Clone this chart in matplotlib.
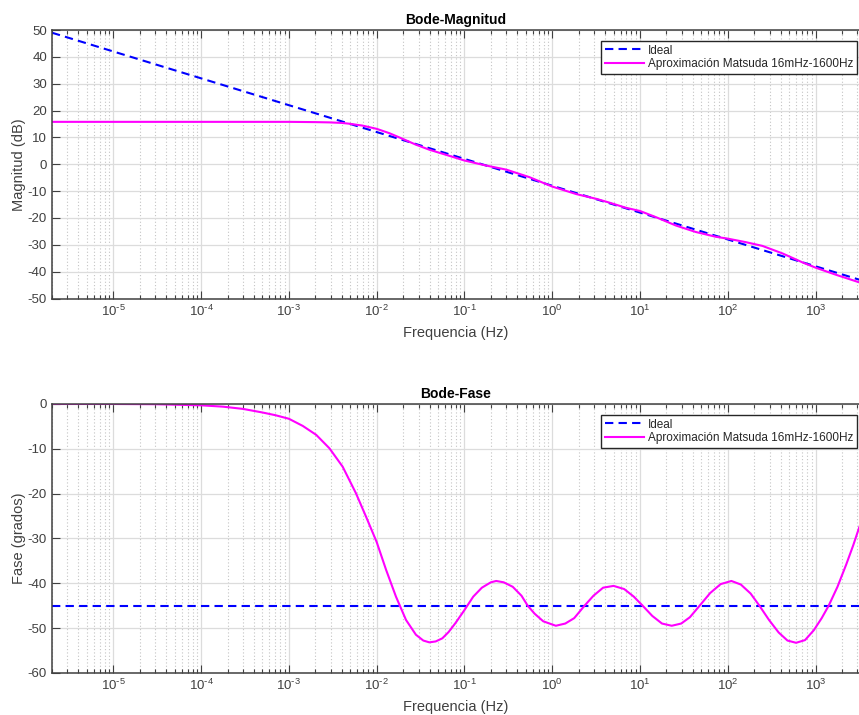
import numpy as np
from matplotlib import pyplot as plt
import matplotlib.ticker as ticker

plt.rcParams['font.family'] = ['Liberation Sans', 'DejaVu Sans']
plt.rcParams['mathtext.default'] = 'regular'
plt.rcParams['axes.unicode_minus'] = False

# ideal fractional integrator s^-0.5
ideal_freq = [2e-6, 10 ** 3.5]
ideal_mag = [49.0, -43.0]
ideal_phase = [-45.0, -45.0]

# Matsuda approximation, magnitude
mag_freq = [2e-6, 1e-5, 1e-4, 1e-3, 2e-3, 2.9e-3, 4e-3, 4.9e-3, 6.9e-3, 0.01, 0.0139,
            0.0197, 0.028, 0.04, 0.062, 0.1, 0.178, 0.3, 0.55, 1.0, 1.88,
            3.2, 4.5, 6.9, 10, 15.2, 25.6, 43, 73, 100, 160, 248, 420, 716, 1000,
            1725, 3162]
mag_matsuda = [15.8, 15.8, 15.8, 15.8, 15.7, 15.6, 15.4, 15.1, 14.4, 13.2, 11.6,
               9.5, 7.3, 5.4, 3.5, 1.4, -0.5, -2.0, -4.8, -8.3, -11.1,
               -12.9, -14.3, -16.2, -17.4, -19.7, -22.8, -25.2, -27.0, -27.7, -29.0,
               -30.4, -33.2, -36.6, -38.5, -41.2, -44.0]

# Matsuda approximation, phase
phase_freq = [2e-6, 1e-5, 3e-5, 1e-4, 1.78e-4, 3e-4, 5e-4, 7e-4, 1e-3, 1.44e-3, 2.05e-3,
              2.9e-3, 4.1e-3, 5.8e-3, 7.55e-3, 0.01, 0.0128, 0.0166, 0.0216, 0.028,
              0.034, 0.0398, 0.047, 0.056, 0.066, 0.079, 0.1,
              0.126, 0.158, 0.2, 0.23, 0.28, 0.355, 0.447, 0.525, 0.63, 0.79, 1.1,
              1.41, 1.78, 2.34, 2.95, 3.8, 5.0, 6.6, 8.5, 10.7, 13.8, 17.8, 23,
              29.5, 37, 47.9, 63, 83, 110, 141, 182, 229, 295, 380, 479, 600, 759,
              955, 1175, 1413, 1778, 2239, 2692, 3162]
phase_matsuda = [0.0, 0.0, -0.05, -0.3, -0.6, -1.1, -1.9, -2.5, -3.3, -4.9, -6.9,
                 -9.9, -14.0, -19.9, -25.1, -30.8, -37.0, -43.0, -48.2, -51.5,
                 -52.8, -53.2, -53.0, -52.3, -50.9, -48.9, -46.0,
                 -43.0, -41.0, -39.8, -39.5, -39.8, -40.8, -42.8, -45.0, -46.8, -48.5, -49.5,
                 -49.0, -47.8, -45.0, -42.8, -41.0, -40.6, -41.3, -43.0, -45.0, -47.3, -49.0, -49.5,
                 -49.0, -47.6, -45.0, -42.2, -40.2, -39.5, -40.3, -42.3, -45.0, -48.2, -51.0,
                 -52.8, -53.3, -52.7, -50.5, -47.8, -45.0, -40.8, -35.8, -31.5, -27.4]

mag_ticks = np.arange(-50, 51, 10)
phase_ticks = np.arange(-60, 1, 10)
freq_ticks = [1e-5, 1e-4, 1e-3, 1e-2, 1e-1, 1e0, 1e1, 1e2, 1e3]

AX_COLOR = '#404040'
LEGEND_LABELS = ['Ideal', 'Aproximación Matsuda 16mHz-1600Hz']


def decade_label(x, pos):
    """MATLAB style 10^n label, plain hyphen for negative exponents"""
    n = int(round(np.log10(x)))
    if n < 0:
        return r'$10^{\text{-}%d}$' % (-n)
    return r'$10^{%d}$' % n


def style_axes(ax, title, ylabel, yticks):
    """
    Gives an axes the look of a MATLAB bode plot
    """
    ax.set_xscale('log')
    ax.set_xlim(ideal_freq[0], ideal_freq[-1])
    ax.set_ylim(yticks[0], yticks[-1])
    ax.set_yticks(yticks)
    ax.set_xticks(freq_ticks)
    ax.xaxis.set_major_formatter(ticker.FuncFormatter(decade_label))
    ax.xaxis.set_minor_locator(ticker.LogLocator(base=10, subs=np.arange(2, 10), numticks=20))
    ax.xaxis.set_minor_formatter(ticker.NullFormatter())

    ax.grid(which='major', axis='both', color='#dcdcdc', linewidth=0.9, linestyle='-')
    ax.grid(which='minor', axis='x', color='#c4c4c4', linewidth=0.8, linestyle=(0, (1, 2)))
    ax.set_axisbelow(True)

    ax.tick_params(which='both', direction='in', top=True, right=False,
                   colors=AX_COLOR, labelsize=9.5, width=0.8)
    ax.tick_params(which='major', length=5.5)
    ax.tick_params(which='minor', length=3)
    for spine in ax.spines.values():
        spine.set_color(AX_COLOR)
        spine.set_linewidth(1.1)
    # the plot runs past the right edge of the picture
    ax.spines['right'].set_visible(False)

    ax.set_title(title, fontsize=10, fontweight='bold', pad=4)
    ax.set_ylabel(ylabel, fontsize=10.5, color=AX_COLOR, labelpad=1)
    ax.set_xlabel('Frequencia (Hz)', fontsize=10.5, color=AX_COLOR, labelpad=5)

    leg = ax.legend(LEGEND_LABELS, loc='upper right', bbox_to_anchor=(0.997, 0.959),
                    fontsize=8.5, fancybox=False, framealpha=1, borderaxespad=0,
                    borderpad=0.3, handlelength=3.3, handletextpad=0.35, labelspacing=0.15)
    leg.get_frame().set_edgecolor('#262626')
    leg.get_frame().set_linewidth(1.0)
    for text in leg.get_texts():
        text.set_color('#262626')


def main():
    fig = plt.figure(figsize=(8.59, 7.15), dpi=100)

    ax_mag = fig.add_axes([0.0605, 0.5825, 0.94, 0.3755])
    ax_mag.plot(ideal_freq, ideal_mag, color='#0000ff', linewidth=1.5, linestyle=(0, (4, 2.5)))
    ax_mag.plot(mag_freq, mag_matsuda, color='#ff00ff', linewidth=1.5)
    style_axes(ax_mag, 'Bode-Magnitud', 'Magnitud (dB)', mag_ticks)

    ax_ph = fig.add_axes([0.0605, 0.059, 0.94, 0.376])
    ax_ph.plot(ideal_freq, ideal_phase, color='#0000ff', linewidth=1.5, linestyle=(0, (4, 2.5)))
    ax_ph.plot(phase_freq, phase_matsuda, color='#ff00ff', linewidth=1.5)
    style_axes(ax_ph, 'Bode-Fase', 'Fase (grados)', phase_ticks)

    plt.savefig('out.png', dpi=100)


if __name__ == "__main__":
    main()
